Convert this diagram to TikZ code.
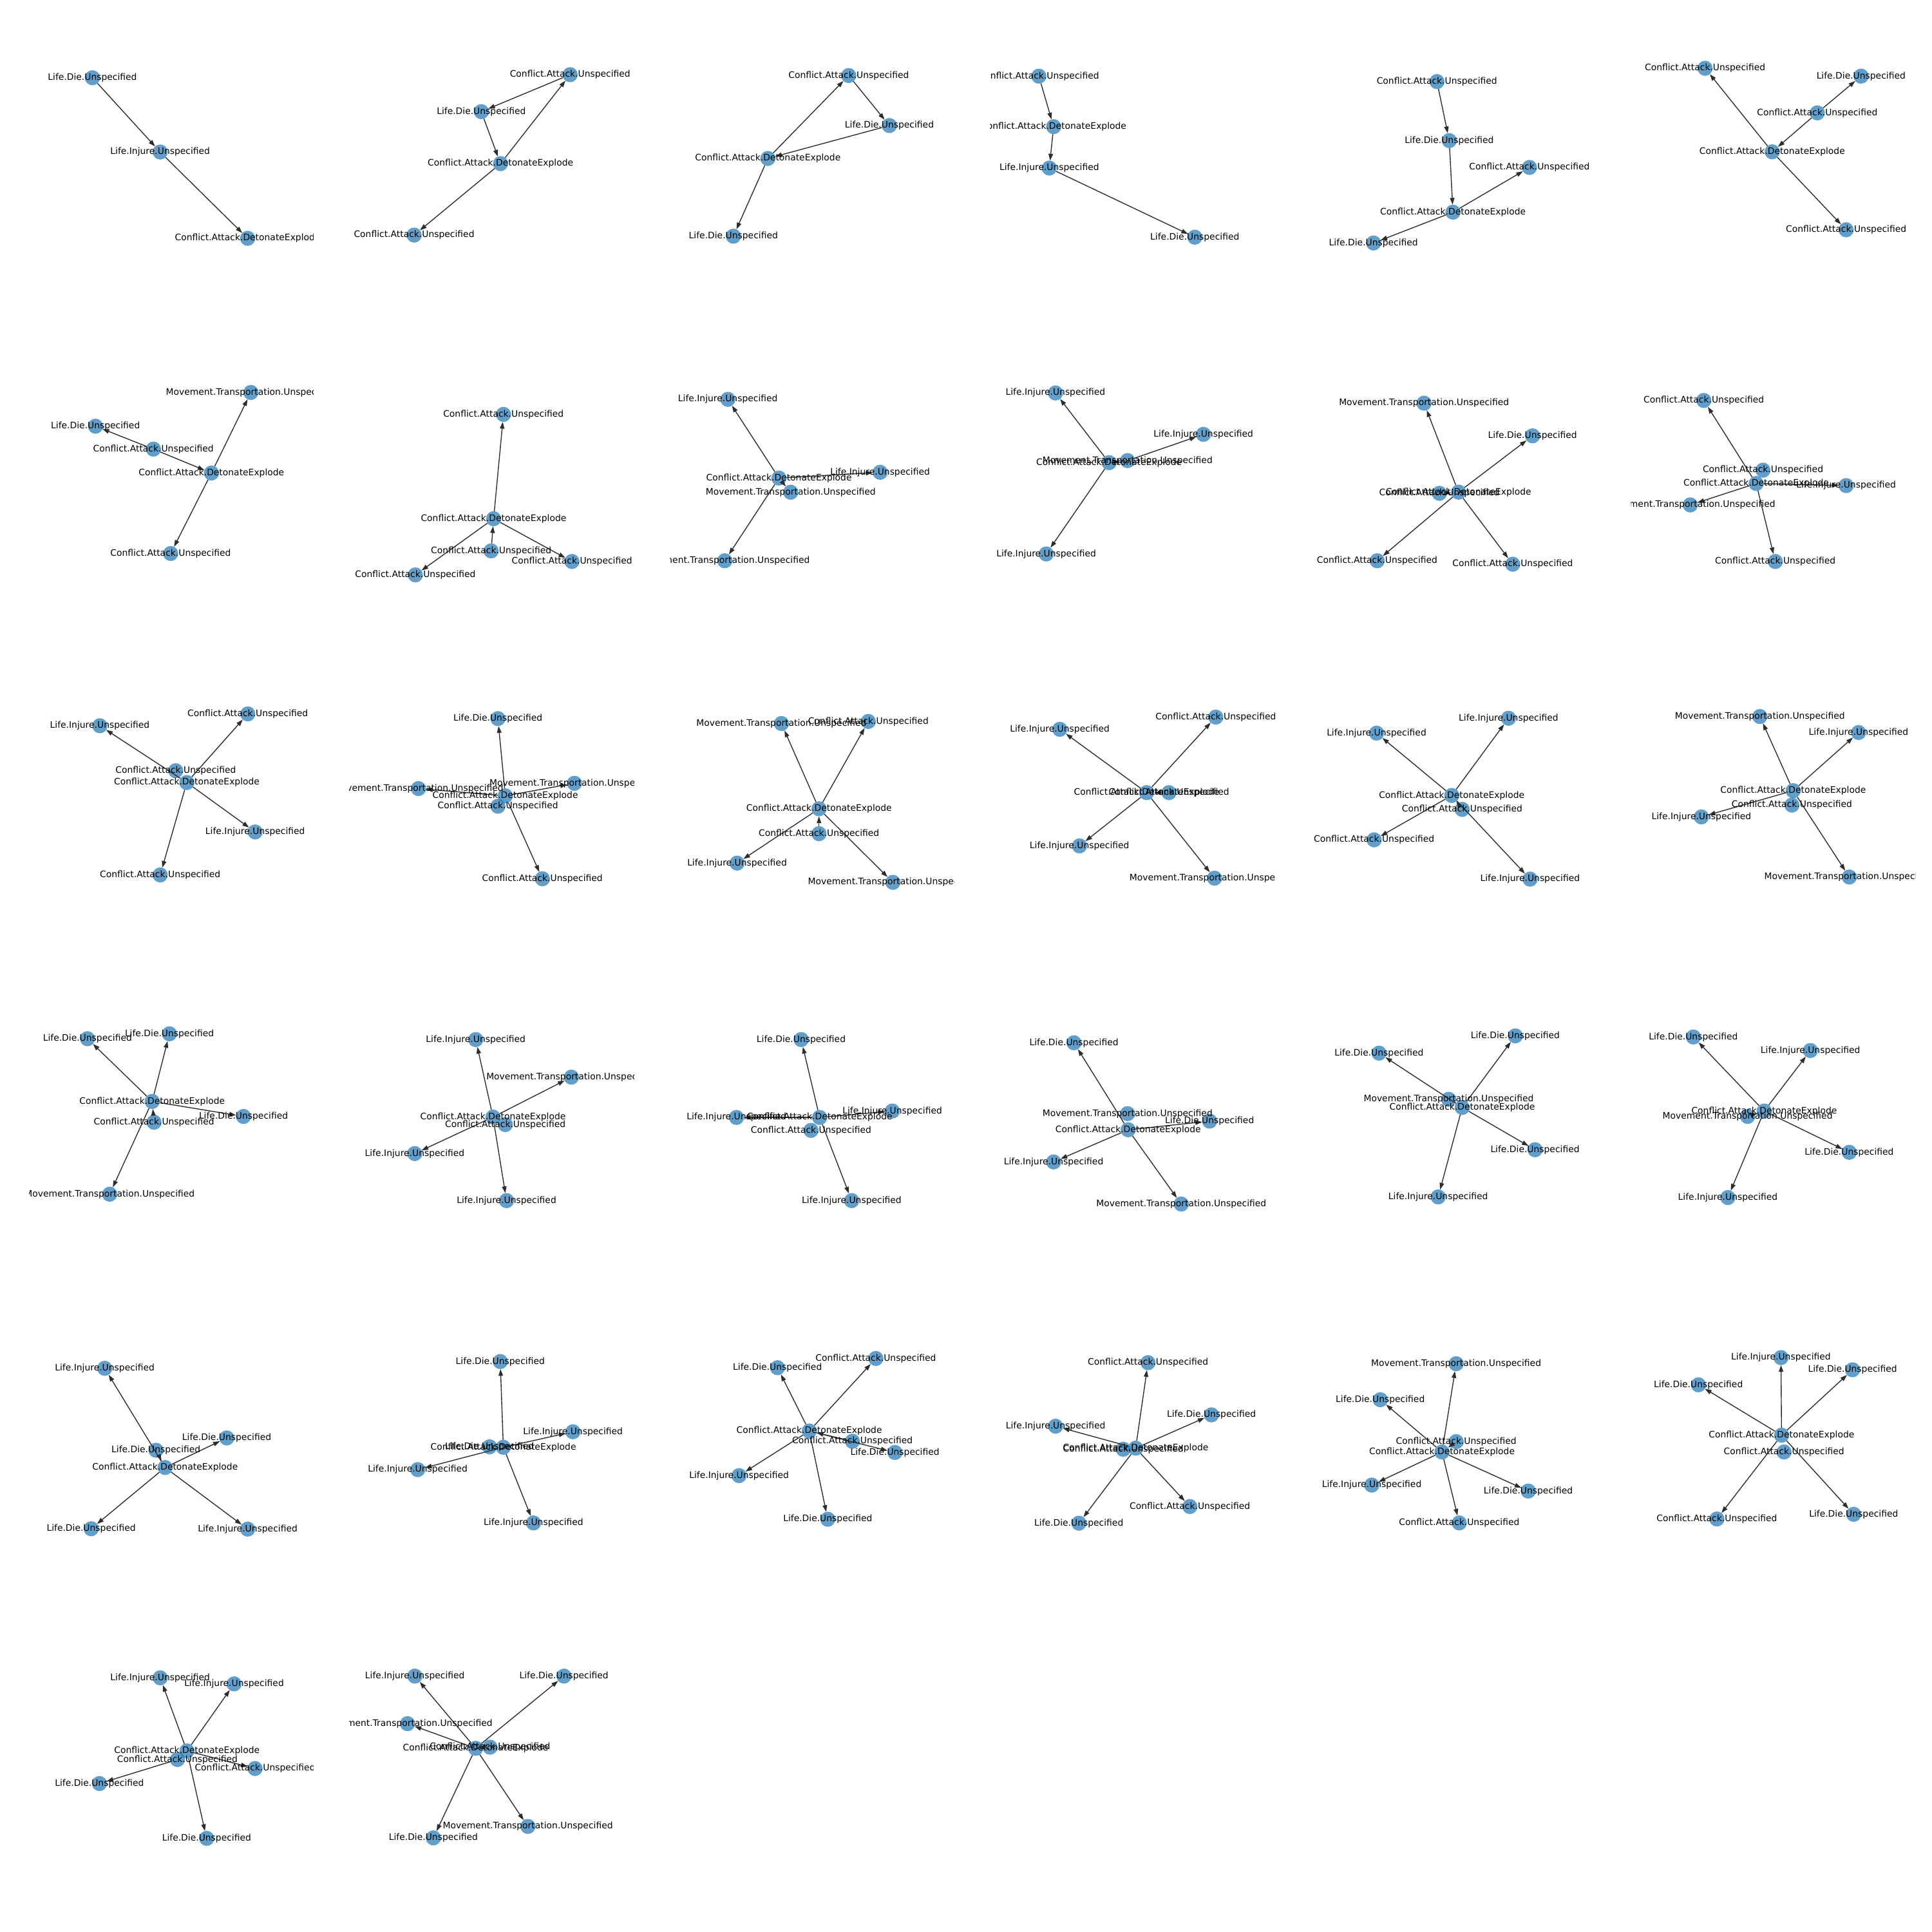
\documentclass[tikz,border=0pt]{standalone}
\usepackage{fontspec}
\setmainfont{DejaVu Sans}
\usetikzlibrary{arrows.meta}
\definecolor{nodeblue}{RGB}{31,119,180}
\definecolor{edgegray}{RGB}{45,45,45}
\newcommand\tLD{Life.Die.Unspecified}
\newcommand\tLI{Life.Injure.Unspecified}
\newcommand\tCA{Conflict.Attack.Unspecified}
\newcommand\tCD{Conflict.Attack.DetonateExplode}
\newcommand\tMT{Movement.Transportation.Unspecified}
\newcommand\gclip[2]{\clip ({23.8+260*#1},{23.8+260*#2}) rectangle ++(230.7,230.7);}
\newcommand\gnd[3]{\node[gn] (#1) at (#2,#3) {};}
\newcommand\glb[2]{\node[gl] (#1L) at (#1) {#2};}
\newcommand\ged[2]{\draw[ge] (#1) -- (#2);}
\begin{document}
\begin{tikzpicture}[x=1.37755pt,y=-1.37755pt,
  gn/.style={circle,fill=nodeblue,fill opacity=0.7,draw=none,minimum size=16.9pt,inner sep=0pt,outer sep=0pt},
  gl/.style={font=\fontsize{10}{12}\selectfont,text=black,inner sep=0pt,outer sep=0pt},
  ge/.style={draw=edgegray,line width=1pt,-{Triangle[length=7.5pt,width=5pt]}}]
\fill[white] (0,0) rectangle (1568,1568);
\useasboundingbox (0,0) rectangle (1568,1568);
% ---------- row 1 ----------
\begin{scope}\gclip{0}{0}
\gnd{g1a}{75}{63.1}\gnd{g1b}{130}{123.4}\gnd{g1c}{201}{193.4}
\ged{g1a}{g1b}\ged{g1b}{g1c}
\glb{g1a}{\tLD}\glb{g1b}{\tLI}\glb{g1c}{\tCD}
\end{scope}
\begin{scope}\gclip{1}{0}
\gnd{g2a}{462.7}{60.6}\gnd{g2b}{390.6}{90.6}\gnd{g2c}{406.2}{132.8}\gnd{g2d}{336.1}{190.8}
\ged{g2a}{g2b}\ged{g2b}{g2c}\ged{g2c}{g2a}\ged{g2c}{g2d}
\glb{g2a}{\tCA}\glb{g2b}{\tLD}\glb{g2c}{\tCD}\glb{g2d}{\tCA}
\end{scope}
\begin{scope}\gclip{2}{0}
\gnd{g3a}{688.8}{61.3}\gnd{g3b}{721.8}{101.9}\gnd{g3c}{623.2}{128.6}\gnd{g3d}{595.2}{191.7}
\ged{g3c}{g3a}\ged{g3a}{g3b}\ged{g3b}{g3c}\ged{g3c}{g3d}
\glb{g3a}{\tCA}\glb{g3b}{\tLD}\glb{g3c}{\tCD}\glb{g3d}{\tLD}
\end{scope}
\begin{scope}\gclip{3}{0}
\gnd{g4a}{843.1}{61.8}\gnd{g4b}{855.1}{102.8}\gnd{g4c}{851.6}{136.4}\gnd{g4d}{969.7}{192.5}
\ged{g4a}{g4b}\ged{g4b}{g4c}\ged{g4c}{g4d}
\glb{g4a}{\tCA}\glb{g4b}{\tCD}\glb{g4c}{\tLI}\glb{g4d}{\tLD}
\end{scope}
\begin{scope}\gclip{4}{0}
\gnd{g5a}{1166.2}{66.2}\gnd{g5b}{1176.2}{114.1}\gnd{g5c}{1241.3}{135.9}\gnd{g5d}{1179.2}{172.2}\gnd{g5e}{1114.7}{197.2}
\ged{g5a}{g5b}\ged{g5b}{g5d}\ged{g5d}{g5c}\ged{g5d}{g5e}
\glb{g5a}{\tCA}\glb{g5b}{\tLD}\glb{g5c}{\tCA}\glb{g5d}{\tCD}\glb{g5e}{\tLD}
\end{scope}
\begin{scope}\gclip{5}{0}
\gnd{g6a}{1383.8}{55.4}\gnd{g6b}{1510.4}{61.8}\gnd{g6c}{1474.9}{91.6}\gnd{g6d}{1438.3}{123.2}\gnd{g6e}{1498.3}{186.5}
\ged{g6d}{g6a}\ged{g6c}{g6b}\ged{g6c}{g6d}\ged{g6d}{g6e}
\glb{g6a}{\tCA}\glb{g6b}{\tLD}\glb{g6c}{\tCA}\glb{g6d}{\tCD}\glb{g6e}{\tCA}
\end{scope}
% ---------- row 2 ----------
\begin{scope}\gclip{0}{1}
\gnd{g7a}{203.6}{318.5}\gnd{g7b}{77.5}{345.9}\gnd{g7c}{124.5}{364.5}\gnd{g7d}{171.6}{383.9}\gnd{g7e}{138.5}{449.2}
\ged{g7c}{g7b}\ged{g7c}{g7d}\ged{g7d}{g7a}\ged{g7d}{g7e}
\glb{g7a}{\tMT}\glb{g7b}{\tLD}\glb{g7c}{\tCA}\glb{g7d}{\tCD}\glb{g7e}{\tCA}
\end{scope}
\begin{scope}\gclip{1}{1}
\gnd{g8a}{408.6}{336.3}\gnd{g8b}{400.6}{421}\gnd{g8c}{398.6}{447.1}\gnd{g8d}{464.2}{455.7}\gnd{g8e}{337.1}{466.6}
\ged{g8b}{g8a}\ged{g8c}{g8b}\ged{g8b}{g8d}\ged{g8b}{g8e}
\glb{g8a}{\tCA}\glb{g8b}{\tCD}\glb{g8c}{\tCA}\glb{g8d}{\tCA}\glb{g8e}{\tCA}
\end{scope}
\begin{scope}\gclip{2}{1}
\gnd{g9a}{590.7}{324.1}\gnd{g9b}{632.2}{388}\gnd{g9c}{641.7}{399.5}\gnd{g9d}{714.3}{383.3}\gnd{g9e}{588.2}{455.1}
\ged{g9b}{g9a}\ged{g9b}{g9d}\ged{g9b}{g9c}\ged{g9b}{g9e}
\glb{g9a}{\tLI}\glb{g9b}{\tCD}\glb{g9c}{\tMT}\glb{g9d}{\tLI}\glb{g9e}{\tMT}
\end{scope}
\begin{scope}\gclip{3}{1}
\gnd{g10a}{856.6}{318.9}\gnd{g10b}{900.1}{375.5}\gnd{g10c}{915.1}{373.8}\gnd{g10d}{976.7}{352.5}\gnd{g10e}{849.1}{449.6}
\ged{g10b}{g10a}\ged{g10b}{g10c}\ged{g10c}{g10d}\ged{g10b}{g10e}
\glb{g10a}{\tLI}\glb{g10b}{\tCD}\glb{g10c}{\tMT}\glb{g10d}{\tLI}\glb{g10e}{\tLI}
\end{scope}
\begin{scope}\gclip{4}{1}
\gnd{g11a}{1155.7}{327.2}\gnd{g11b}{1243.8}{353.7}\gnd{g11c}{1168.2}{400.4}\gnd{g11d}{1183.7}{399.4}\gnd{g11e}{1117.7}{455.1}\gnd{g11f}{1227.7}{457.9}
\ged{g11d}{g11a}\ged{g11d}{g11b}\ged{g11c}{g11d}\ged{g11d}{g11e}\ged{g11d}{g11f}
\glb{g11a}{\tMT}\glb{g11b}{\tLD}\glb{g11c}{\tCA}\glb{g11d}{\tCD}\glb{g11e}{\tCA}\glb{g11f}{\tCA}
\end{scope}
\begin{scope}\gclip{5}{1}
\gnd{g12a}{1382.8}{325}\gnd{g12b}{1430.8}{381.6}\gnd{g12c}{1425.3}{392.4}\gnd{g12d}{1498.3}{394.1}\gnd{g12e}{1371.8}{409.8}\gnd{g12f}{1440.8}{455.7}
\ged{g12c}{g12a}\ged{g12c}{g12d}\ged{g12c}{g12e}\ged{g12c}{g12f}
\glb{g12a}{\tCA}\glb{g12b}{\tCA}\glb{g12c}{\tCD}\glb{g12d}{\tLI}\glb{g12e}{\tMT}\glb{g12f}{\tCA}
\end{scope}
% ---------- row 3 ----------
\begin{scope}\gclip{0}{2}
\gnd{g13a}{81}{589}\gnd{g13b}{201.1}{579.4}\gnd{g13c}{142.6}{625.5}\gnd{g13d}{151.6}{635.1}\gnd{g13e}{207.1}{675.2}\gnd{g13f}{130}{710.1}
\ged{g13d}{g13a}\ged{g13d}{g13b}\ged{g13d}{g13e}\ged{g13d}{g13f}
\glb{g13a}{\tLI}\glb{g13b}{\tCA}\glb{g13c}{\tCA}\glb{g13d}{\tCD}\glb{g13e}{\tLI}\glb{g13f}{\tCA}
\end{scope}
\begin{scope}\gclip{1}{2}
\gnd{g14a}{404.1}{583.2}\gnd{g14b}{339.6}{640}\gnd{g14c}{466.2}{635.7}\gnd{g14d}{410.1}{645.9}\gnd{g14e}{404.1}{654.3}\gnd{g14f}{440.2}{713.2}
\ged{g14d}{g14a}\ged{g14d}{g14b}\ged{g14d}{g14c}\ged{g14d}{g14f}
\glb{g14a}{\tLD}\glb{g14b}{\tMT}\glb{g14c}{\tMT}\glb{g14d}{\tCD}\glb{g14e}{\tCA}\glb{g14f}{\tCA}
\end{scope}
\begin{scope}\gclip{2}{2}
\gnd{g15a}{634.2}{587.2}\gnd{g15b}{704.7}{585.5}\gnd{g15c}{664.7}{656.4}\gnd{g15d}{664.7}{676.6}\gnd{g15e}{598.2}{700.5}\gnd{g15f}{724.7}{716.1}
\ged{g15c}{g15a}\ged{g15c}{g15b}\ged{g15d}{g15c}\ged{g15c}{g15e}\ged{g15c}{g15f}
\glb{g15a}{\tMT}\glb{g15b}{\tCA}\glb{g15c}{\tCD}\glb{g15d}{\tCA}\glb{g15e}{\tLI}\glb{g15f}{\tMT}
\end{scope}
\begin{scope}\gclip{3}{2}
\gnd{g16a}{860.1}{591.9}\gnd{g16b}{986.7}{582}\gnd{g16c}{930.6}{643.3}\gnd{g16d}{948.7}{643.3}\gnd{g16e}{876.1}{686.5}\gnd{g16f}{985.7}{712.7}
\ged{g16c}{g16a}\ged{g16c}{g16b}\ged{g16d}{g16c}\ged{g16c}{g16e}\ged{g16c}{g16f}
\glb{g16a}{\tLI}\glb{g16b}{\tCA}\glb{g16c}{\tCD}\glb{g16d}{\tCA}\glb{g16e}{\tLI}\glb{g16f}{\tMT}
\end{scope}
\begin{scope}\gclip{4}{2}
\gnd{g17a}{1117.2}{595}\gnd{g17b}{1224.3}{582.9}\gnd{g17c}{1178.2}{645.6}\gnd{g17d}{1186.7}{656.9}\gnd{g17e}{1115.2}{681.6}\gnd{g17f}{1241.8}{713.5}
\ged{g17c}{g17a}\ged{g17c}{g17b}\ged{g17d}{g17c}\ged{g17c}{g17e}\ged{g17c}{g17f}
\glb{g17a}{\tLI}\glb{g17b}{\tLI}\glb{g17c}{\tCD}\glb{g17d}{\tCA}\glb{g17e}{\tCA}\glb{g17f}{\tLI}
\end{scope}
\begin{scope}\gclip{5}{2}
\gnd{g18a}{1428.3}{581.5}\gnd{g18b}{1508.4}{594.5}\gnd{g18c}{1455.3}{641.7}\gnd{g18d}{1454.3}{653.4}\gnd{g18e}{1380.8}{663}\gnd{g18f}{1500.9}{711.8}
\ged{g18c}{g18a}\ged{g18c}{g18b}\ged{g18c}{g18e}\ged{g18c}{g18f}
\glb{g18a}{\tMT}\glb{g18b}{\tLI}\glb{g18c}{\tCD}\glb{g18d}{\tCA}\glb{g18e}{\tLI}\glb{g18f}{\tMT}
\end{scope}
% ---------- row 4 ----------
\begin{scope}\gclip{0}{3}
\gnd{g19a}{71}{843}\gnd{g19b}{137.5}{839}\gnd{g19c}{123.5}{893.9}\gnd{g19d}{125}{910.8}\gnd{g19e}{197.6}{906.1}\gnd{g19f}{89}{969.2}
\ged{g19c}{g19a}\ged{g19c}{g19b}\ged{g19d}{g19c}\ged{g19c}{g19e}\ged{g19c}{g19f}
\glb{g19a}{\tLD}\glb{g19b}{\tLD}\glb{g19c}{\tCD}\glb{g19d}{\tCA}\glb{g19e}{\tLD}\glb{g19f}{\tMT}
\end{scope}
\begin{scope}\gclip{1}{3}
\gnd{g20a}{386.1}{843.7}\gnd{g20b}{463.7}{874.2}\gnd{g20c}{400.1}{906.6}\gnd{g20d}{410.1}{912.7}\gnd{g20e}{336.6}{936.2}\gnd{g20f}{411.1}{974.4}
\ged{g20c}{g20a}\ged{g20c}{g20b}\ged{g20c}{g20e}\ged{g20c}{g20f}
\glb{g20a}{\tLI}\glb{g20b}{\tMT}\glb{g20c}{\tCD}\glb{g20d}{\tCA}\glb{g20e}{\tLI}\glb{g20f}{\tLI}
\end{scope}
\begin{scope}\gclip{2}{3}
\gnd{g21a}{650.2}{843.7}\gnd{g21b}{597.7}{906.9}\gnd{g21c}{665.2}{906.9}\gnd{g21d}{658.2}{917.4}\gnd{g21e}{724.2}{901.7}\gnd{g21f}{691.2}{974.4}
\ged{g21c}{g21a}\ged{g21c}{g21b}\ged{g21c}{g21e}\ged{g21c}{g21f}
\glb{g21a}{\tLD}\glb{g21b}{\tLI}\glb{g21c}{\tCD}\glb{g21d}{\tCA}\glb{g21e}{\tLI}\glb{g21f}{\tLI}
\end{scope}
\begin{scope}\gclip{3}{3}
\gnd{g22a}{871.6}{846.3}\gnd{g22b}{915.1}{903.8}\gnd{g22c}{915.6}{916.9}\gnd{g22d}{981.7}{909.9}\gnd{g22e}{855.1}{943}\gnd{g22f}{958.7}{977.2}
\ged{g22c}{g22a}\ged{g22c}{g22d}\ged{g22c}{g22e}\ged{g22c}{g22f}
\glb{g22a}{\tLD}\glb{g22b}{\tMT}\glb{g22c}{\tCD}\glb{g22d}{\tLD}\glb{g22e}{\tLI}\glb{g22f}{\tMT}
\end{scope}
\begin{scope}\gclip{4}{3}
\gnd{g23a}{1119.2}{854.7}\gnd{g23b}{1229.8}{840.7}\gnd{g23c}{1175.7}{892.2}\gnd{g23d}{1186.7}{898.8}\gnd{g23e}{1245.8}{933.1}\gnd{g23f}{1167.2}{971.4}
\ged{g23d}{g23a}\ged{g23d}{g23b}\ged{g23d}{g23e}\ged{g23d}{g23f}
\glb{g23a}{\tLD}\glb{g23b}{\tLD}\glb{g23c}{\tMT}\glb{g23d}{\tCD}\glb{g23e}{\tLD}\glb{g23f}{\tLI}
\end{scope}
\begin{scope}\gclip{5}{3}
\gnd{g24a}{1374.3}{841.6}\gnd{g24b}{1469.3}{852.6}\gnd{g24c}{1431.8}{901.7}\gnd{g24d}{1418.3}{906.1}\gnd{g24e}{1500.8}{935.2}\gnd{g24f}{1402.3}{971.9}
\ged{g24c}{g24a}\ged{g24c}{g24b}\ged{g24d}{g24c}\ged{g24c}{g24e}\ged{g24c}{g24f}
\glb{g24a}{\tLD}\glb{g24b}{\tLI}\glb{g24c}{\tCD}\glb{g24d}{\tMT}\glb{g24e}{\tLD}\glb{g24f}{\tLI}
\end{scope}
% ---------- row 5 ----------
\begin{scope}\gclip{0}{4}
\gnd{g25a}{85}{1110.5}\gnd{g25b}{184}{1167}\gnd{g25c}{126.6}{1177}\gnd{g25d}{134}{1191}\gnd{g25e}{74}{1240.7}\gnd{g25f}{201}{1241}
\ged{g25d}{g25a}\ged{g25d}{g25b}\ged{g25c}{g25d}\ged{g25d}{g25e}\ged{g25d}{g25f}
\glb{g25a}{\tLI}\glb{g25b}{\tLD}\glb{g25c}{\tLD}\glb{g25d}{\tCD}\glb{g25e}{\tLD}\glb{g25f}{\tLI}
\end{scope}
\begin{scope}\gclip{1}{4}
\gnd{g26a}{406}{1105}\gnd{g26b}{465}{1162}\gnd{g26c}{397.3}{1174.2}\gnd{g26d}{408.5}{1174.6}\gnd{g26e}{339}{1192.7}\gnd{g26f}{433}{1236}
\ged{g26d}{g26a}\ged{g26d}{g26b}\ged{g26d}{g26e}\ged{g26d}{g26f}
\glb{g26a}{\tLD}\glb{g26b}{\tLI}\glb{g26c}{\tLD}\glb{g26d}{\tCD}\glb{g26e}{\tLI}\glb{g26f}{\tLI}
\end{scope}
\begin{scope}\gclip{2}{4}
\gnd{g27a}{631}{1110}\gnd{g27b}{710.8}{1102.5}\gnd{g27c}{656.8}{1161.4}\gnd{g27d}{691.8}{1169.7}\gnd{g27e}{726.3}{1178.8}\gnd{g27f}{599.8}{1197.6}\gnd{g27g}{671.8}{1233}
\ged{g27c}{g27a}\ged{g27c}{g27b}\ged{g27d}{g27c}\ged{g27c}{g27e}\ged{g27c}{g27f}\ged{g27c}{g27g}
\glb{g27a}{\tLD}\glb{g27b}{\tCA}\glb{g27c}{\tCD}\glb{g27d}{\tCA}\glb{g27e}{\tLD}\glb{g27f}{\tLI}\glb{g27g}{\tLD}
\end{scope}
\begin{scope}\gclip{3}{4}
\gnd{g28a}{931.7}{1105.9}\gnd{g28b}{983.2}{1148.3}\gnd{g28c}{856.7}{1157.5}\gnd{g28d}{911.6}{1176.2}\gnd{g28e}{921.7}{1175.3}\gnd{g28f}{965.7}{1222.7}\gnd{g28g}{875.6}{1236.2}
\ged{g28e}{g28a}\ged{g28e}{g28b}\ged{g28e}{g28c}\ged{g28e}{g28f}\ged{g28e}{g28g}
\glb{g28a}{\tCA}\glb{g28b}{\tLD}\glb{g28c}{\tLI}\glb{g28d}{\tCA}\glb{g28e}{\tCD}\glb{g28f}{\tCA}\glb{g28g}{\tLD}
\end{scope}
\begin{scope}\gclip{4}{4}
\gnd{g29a}{1181.8}{1106.8}\gnd{g29b}{1120.2}{1136}\gnd{g29c}{1181.8}{1170}\gnd{g29d}{1170.3}{1178.4}\gnd{g29e}{1113.3}{1205.3}\gnd{g29f}{1240.3}{1210.1}\gnd{g29g}{1184.3}{1236}
\ged{g29d}{g29a}\ged{g29d}{g29b}\ged{g29c}{g29d}\ged{g29d}{g29e}\ged{g29d}{g29f}\ged{g29d}{g29g}
\glb{g29a}{\tMT}\glb{g29b}{\tLD}\glb{g29c}{\tCA}\glb{g29d}{\tCD}\glb{g29e}{\tLI}\glb{g29f}{\tLD}\glb{g29g}{\tCA}
\end{scope}
\begin{scope}\gclip{5}{4}
\gnd{g30a}{1445.4}{1101.8}\gnd{g30b}{1503.5}{1111.7}\gnd{g30c}{1378.4}{1123.9}\gnd{g30d}{1445.9}{1164.8}\gnd{g30e}{1447.9}{1178.4}\gnd{g30f}{1393.4}{1232.8}\gnd{g30g}{1504.4}{1229}
\ged{g30d}{g30a}\ged{g30d}{g30b}\ged{g30d}{g30c}\ged{g30d}{g30f}\ged{g30d}{g30g}
\glb{g30a}{\tLI}\glb{g30b}{\tLD}\glb{g30c}{\tLD}\glb{g30d}{\tCD}\glb{g30e}{\tCA}\glb{g30f}{\tCA}\glb{g30g}{\tLD}
\end{scope}
% ---------- row 6 ----------
\begin{scope}\gclip{0}{5}
\gnd{g31a}{130}{1361.7}\gnd{g31b}{190}{1366.6}\gnd{g31c}{151.7}{1421}\gnd{g31d}{144}{1428}\gnd{g31e}{207}{1435.3}\gnd{g31f}{80.7}{1447.5}\gnd{g31g}{167.7}{1492}
\ged{g31c}{g31a}\ged{g31c}{g31b}\ged{g31c}{g31e}\ged{g31d}{g31f}\ged{g31c}{g31g}
\glb{g31a}{\tLI}\glb{g31b}{\tLI}\glb{g31c}{\tCD}\glb{g31d}{\tCA}\glb{g31e}{\tCA}\glb{g31f}{\tLD}\glb{g31g}{\tLD}
\end{scope}
\begin{scope}\gclip{1}{5}
\gnd{g32a}{336.7}{1360.3}\gnd{g32b}{457.7}{1360.3}\gnd{g32c}{330.7}{1398.9}\gnd{g32d}{386}{1418.9}\gnd{g32e}{397.7}{1418}\gnd{g32f}{351.7}{1491.6}\gnd{g32g}{428.4}{1482.3}
\ged{g32d}{g32a}\ged{g32d}{g32b}\ged{g32d}{g32c}\ged{g32d}{g32f}\ged{g32d}{g32g}
\glb{g32a}{\tLI}\glb{g32b}{\tLD}\glb{g32c}{\tMT}\glb{g32d}{\tCD}\glb{g32e}{\tCA}\glb{g32f}{\tLD}\glb{g32g}{\tMT}
\end{scope}
\end{tikzpicture}
\end{document}
